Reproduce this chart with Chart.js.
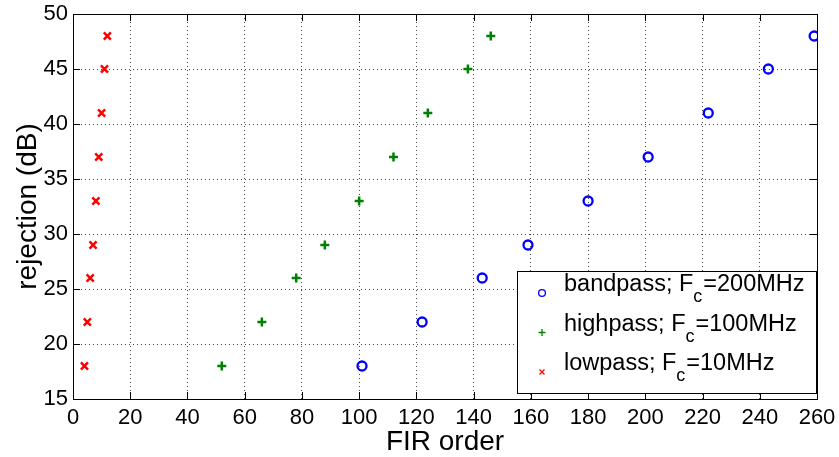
<!DOCTYPE html>
<html>
<head>
<meta charset="utf-8">
<script src="https://cdn.jsdelivr.net/npm/chart.js@4"></script>
<style>
  html, body { margin: 0; padding: 0; background: #fff; }
  #wrap { width: 839px; height: 457px; }
</style>
</head>
<body>
<div id="wrap"><canvas id="chart" width="839" height="457"></canvas></div>
<script>
// values
const rejection = [18, 22, 26, 29, 33, 37, 41, 45, 48];
const bandpassOrder = [101, 122, 143, 159, 180, 201, 222, 243, 259];
const highpassOrder = [52, 66, 78, 88, 100, 112, 124, 138, 146];
const lowpassOrder = [4, 5, 6, 7, 8, 9, 10, 11, 12];
const seriesLabels = ["bandpass; F_c=200MHz", "highpass; F_c=100MHz", "lowpass; F_c=10MHz"];
const xTicks = [0, 20, 40, 60, 80, 100, 120, 140, 160, 180, 200, 220, 240, 260];
const yTicks = [15, 20, 25, 30, 35, 40, 45, 50];

const FONT = "'Liberation Sans', Arial, Helvetica, sans-serif";

function pts(xs) {
  return xs.map((x, i) => ({ x: x, y: rejection[i] }));
}

// matlab style box, inward ticks, axis titles and the legend
const matlabDecor = {
  id: "matlabDecor",
  afterDraw(chart) {
    const ctx = chart.ctx;
    const a = chart.chartArea;
    const xs = chart.scales.x, ys = chart.scales.y;
    ctx.save();
    ctx.strokeStyle = "#000";
    ctx.lineWidth = 1;
    ctx.strokeRect(Math.round(a.left) + 0.5, Math.round(a.top) + 0.5,
      Math.round(a.right - a.left), Math.round(a.bottom - a.top));
    ctx.beginPath();
    const tl = 7;
    xTicks.forEach(v => {
      const px = Math.round(xs.getPixelForValue(v)) + 0.5;
      ctx.moveTo(px, a.bottom); ctx.lineTo(px, a.bottom - tl);
      ctx.moveTo(px, a.top); ctx.lineTo(px, a.top + tl);
    });
    yTicks.forEach(v => {
      const py = Math.round(ys.getPixelForValue(v)) + 0.5;
      ctx.moveTo(a.left, py); ctx.lineTo(a.left + tl, py);
      ctx.moveTo(a.right, py); ctx.lineTo(a.right - tl, py);
    });
    ctx.stroke();

    // axis titles
    ctx.fillStyle = "#000";
    ctx.font = "28px " + FONT;
    ctx.textAlign = "center";
    ctx.textBaseline = "alphabetic";
    ctx.fillText("FIR order", (a.left + a.right) / 2, 450);
    ctx.save();
    ctx.translate(36, (a.top + a.bottom) / 2);
    ctx.rotate(-Math.PI / 2);
    ctx.fillText("rejection (dB)", 0, 0);
    ctx.restore();

    // legend box
    const bx = 517, by = 271, bw = 299, bh = 122;
    ctx.fillStyle = "#fff";
    ctx.fillRect(bx, by, bw, bh);
    ctx.strokeRect(bx + 0.5, by + 0.5, bw, bh);
    chart.data.datasets.forEach((ds, i) => {
      const base = 291 + i * 39.5;
      ctx.strokeStyle = ds.borderColor;
      ctx.fillStyle = "rgba(0,0,0,0)";
      ctx.lineWidth = 1.3;
      Chart.helpers.drawPoint(ctx, {
        pointStyle: ds.pointStyle,
        radius: ds.pointStyle === "circle" ? 3.4 : 3.5,
        borderWidth: 1.3
      }, 542, base + 2);
      const parts = ds.label.split("_c");
      ctx.fillStyle = "#000";
      ctx.textAlign = "left";
      ctx.font = "23.5px " + FONT;
      let x = 564;
      ctx.fillText(parts[0], x, base);
      x += ctx.measureText(parts[0]).width;
      ctx.font = "18px " + FONT;
      ctx.fillText("c", x, base + 11);
      x += ctx.measureText("c").width + 1;
      ctx.font = "23.5px " + FONT;
      ctx.fillText(parts[1], x, base);
    });
    ctx.restore();
  }
};

new Chart(document.getElementById("chart"), {
  type: "scatter",
  data: {
    datasets: [
      { label: seriesLabels[0], data: pts(bandpassOrder), pointStyle: "circle",
        borderColor: "#0000ff", backgroundColor: "rgba(0,0,0,0)", pointRadius: 4.5, pointBorderWidth: 2.3 },
      { label: seriesLabels[1], data: pts(highpassOrder), pointStyle: "cross",
        borderColor: "#008000", backgroundColor: "#008000", pointRadius: 4.5, pointBorderWidth: 2.5 },
      { label: seriesLabels[2], data: pts(lowpassOrder), pointStyle: "crossRot",
        borderColor: "#ff0000", backgroundColor: "#ff0000", pointRadius: 5, pointBorderWidth: 2.5 }
    ]
  },
  options: {
    responsive: false,
    animation: false,
    layout: { padding: { left: 0, right: 22, top: 14, bottom: 0 } },
    plugins: { legend: { display: false }, tooltip: { enabled: false } },
    scales: {
      x: {
        type: "linear", min: 0, max: 260,
        afterBuildTicks: s => { s.ticks = xTicks.map(v => ({ value: v })); },
        afterFit: s => { s.height = 58; s.paddingLeft = 0; s.paddingRight = 0; },
        grid: { color: "#444", lineWidth: 1, drawTicks: false },
        border: { display: false, dash: [1, 3] },
        ticks: { color: "#000", font: { family: FONT, size: 22 }, padding: 6, maxRotation: 0, autoSkip: false }
      },
      y: {
        type: "linear", min: 15, max: 50,
        afterBuildTicks: s => { s.ticks = yTicks.map(v => ({ value: v })); },
        afterFit: s => { s.width = 73; s.paddingTop = 0; s.paddingBottom = 0; },
        grid: { color: "#444", lineWidth: 1, drawTicks: false },
        border: { display: false, dash: [1, 3] },
        ticks: { color: "#000", font: { family: FONT, size: 22 }, padding: 5, autoSkip: false }
      }
    }
  },
  plugins: [matlabDecor]
});
</script>
</body>
</html>
